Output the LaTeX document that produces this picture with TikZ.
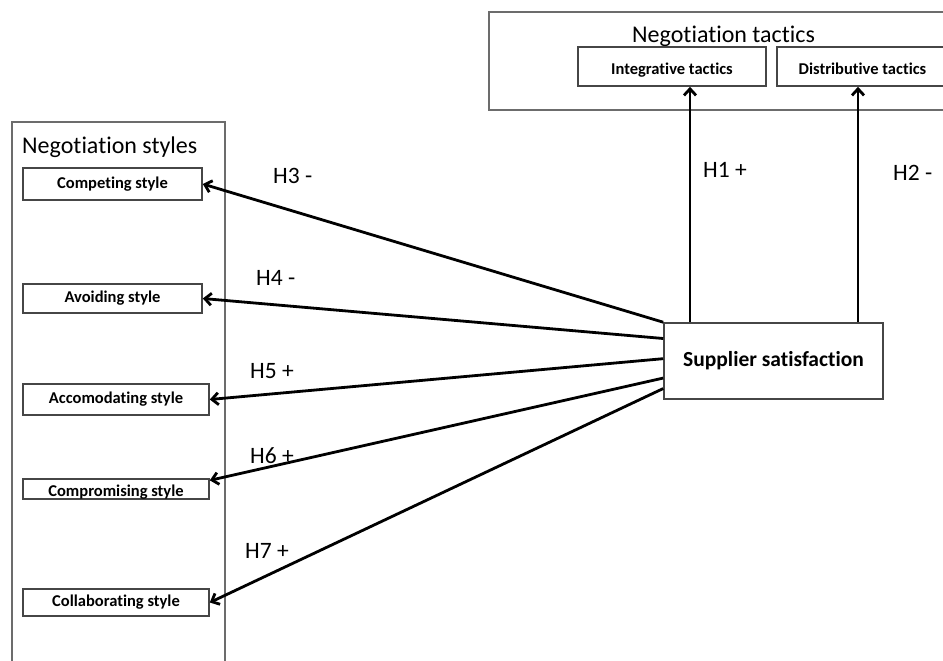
\documentclass[tikz,border=0pt]{standalone}
\usepackage{fontspec}
\setmainfont{Carlito}[Ligatures=NoCommon]
\usetikzlibrary{arrows.meta,calc,shadows}
\begin{document}
\begin{tikzpicture}[x=1pt,y=-1pt,
  grp/.style={draw=gray!85!black, line width=1.5pt},
  box/.style={draw=gray!55!black, line width=1.6pt, fill=white, inner sep=0pt,
    font=\bfseries\fontsize{16.5}{18}\selectfont,
    drop shadow={shadow xshift=1.3pt, shadow yshift=-1.3pt, opacity=0.3}},
  ttl/.style={font=\fontsize{24}{28}\selectfont, anchor=base west, inner sep=0pt},
  hyp/.style={font=\fontsize{23.5}{28}\selectfont, anchor=base west, inner sep=0pt},
  link/.style={line width=2.8pt, -{Straight Barb[length=6.5pt,width=12pt]}},
]
\useasboundingbox (0,0) rectangle (943,661);
\clip (0,0) rectangle (943,661);
\fill[white] (0,0) rectangle (943,661);

% group containers
\draw[grp] (489,12) rectangle (950,110);
\draw[grp] (12,670) -- (12,122) -- (225,122) -- (225,670);
\node[ttl] (ttac) at (632,43) {Negotiation tactics};
\node[ttl] (tsty) at (22,153) {Negotiation styles};

% boxes
\node[box, minimum width=188pt, minimum height=39pt] (integ) at (672,66.5) {\raisebox{-3pt}[13pt][4pt]{Integrative tactics}};
\node[box, minimum width=171pt, minimum height=39pt] (distr) at (862.5,66.5) {\raisebox{-3pt}[13pt][4pt]{Distributive tactics}};
\node[box, minimum width=219pt, minimum height=76pt, font=\bfseries\fontsize{21.5}{24}\selectfont] (sup) at (773.5,361) {Supplier satisfaction};

\node[box, minimum width=179pt, minimum height=32pt] (comp) at (112.5,184) {Competing style};
\node[box, minimum width=179pt, minimum height=29pt] (avoid) at (112.5,298.5) {Avoiding style};
\node[box, minimum width=186pt, minimum height=31pt] (accom) at (116,399.5) {Accomodating style};
\node[box, minimum width=186pt, minimum height=20pt] (compr) at (116,489) {\raisebox{-2.5pt}[13pt][4pt]{Compromising style}};
\node[box, minimum width=186pt, minimum height=27pt] (collab) at (116,602.5) {Collaborating style};

% connectors
\coordinate (u1) at (690,0);
\coordinate (u2) at (858,0);
\draw[link] (sup.north -| u1) -- (integ.south -| u1);
\draw[link] (sup.north -| u2) -- (distr.south -| u2);

\draw[link] (sup.north west) -- (comp.east);
\draw[link] ($(sup.north west)!0.21!(sup.south west)$) -- (avoid.east);
\draw[link] ($(sup.north west)!0.47!(sup.south west)$) -- (accom.east);
\draw[link] ($(sup.north west)!0.72!(sup.south west)$) -- ($(compr.north east)!0.1!(compr.south east)$);
\draw[link] ($(sup.north west)!0.855!(sup.south west)$) -- (collab.east);

% hypothesis labels
\node[hyp] (h1) at (703,177) {H1 +};
\node[hyp] (h2) at (893,180) {H2 -};
\node[hyp] (h3) at (273,183) {H3 -};
\node[hyp] (h4) at (256,285) {H4 -};
\node[hyp] (h5) at (250,378) {H5 +};
\node[hyp] (h6) at (250,463) {H6 +};
\node[hyp] (h7) at (245,558) {H7 +};
\end{tikzpicture}
\end{document}
